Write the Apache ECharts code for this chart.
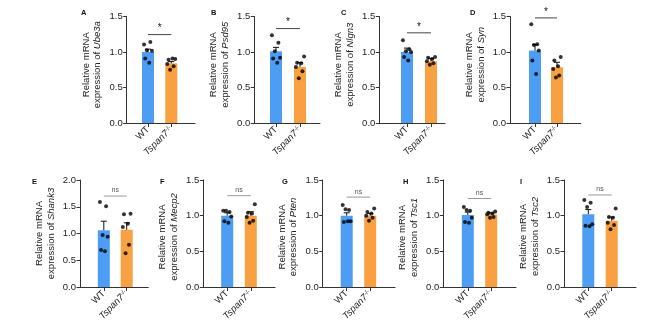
<!DOCTYPE html>
<html>
<head>
<meta charset="utf-8">
<script src="https://cdn.jsdelivr.net/npm/echarts@6/dist/echarts.min.js"></script>
<style>html,body{margin:0;padding:0;background:#fff}#c{width:663px;height:335px}</style>
</head>
<body>
<div id="c"></div>
<script>
// ---------- data ----------
const panelLetters = ['A','B','C','D','E','F','G','H','I'];
const genes = ['Ube3a','Psd95','Nlgn3','Syn','Shank3','Mecp2','Pten','Tsc1','Tsc2'];
const categories = ['WT','Tspan7-/-'];
const wtMean = [1.00, 1.01, 1.00, 1.02, 1.06, 1.00, 1.00, 1.01, 1.02];
const koMean = [0.84, 0.79, 0.87, 0.785, 1.07, 1.00, 1.00, 1.015, 0.93];
const wtSem  = [0.04, 0.055, 0.055, 0.085, 0.17, 0.04, 0.04, 0.04, 0.065];
const koSem  = [0.025, 0.06, 0.04, 0.07, 0.13, 0.055, 0.03, 0.025, 0.05];
const wtDots = [
  [1.105,1.14,1.025,1.017,0.91,0.85],
  [1.235,1.13,1.01,0.92,0.91,0.85],
  [1.165,1.04,1.01,1.0,0.93,0.88],
  [1.39,1.11,1.1,1.02,0.88,0.69],
  [1.59,1.51,0.97,0.94,0.69,0.67],
  [1.07,1.05,1.07,0.99,0.92,0.90],
  [1.15,1.08,1.09,0.92,0.91,0.92],
  [1.12,1.07,1.08,0.97,0.91,0.90],
  [1.22,1.18,1.12,0.88,0.86,0.85]
];
const koDots = [
  [0.90,0.89,0.91,0.83,0.80,0.75],
  [0.935,0.85,0.84,0.79,0.73,0.63],
  [0.93,0.92,0.90,0.87,0.84,0.82],
  [0.93,0.88,0.80,0.76,0.67,0.64],
  [1.37,1.36,1.18,1.12,0.79,0.63],
  [1.16,1.04,1.03,0.98,0.93,0.90],
  [1.10,1.05,1.03,1.0,0.97,0.93],
  [1.06,1.04,1.03,1.02,0.98,0.97],
  [1.10,0.98,0.97,0.90,0.87,0.81]
];
const sigY = [1.245, 1.33, 1.27, 1.48, 1.70, 1.28, 1.26, 1.24, 1.29];
const sigText = ['*','*','*','*','ns','ns','ns','ns','ns'];
const yMax = [1.5,1.5,1.5,1.5,2.0,1.5,1.5,1.5,1.5];

// ---------- layout (pixels) ----------
const axisX = [126.7, 254.3, 379.3, 510, 80, 203.3, 322.7, 443.3, 564];
const wtX   = [148, 276, 407, 535, 103.8, 227.2, 346.7, 467.8, 588.3];
const koX   = [171.3, 300, 431, 557, 126.7, 250.8, 370.2, 491.2, 611.7];
const endX  = [195, 320, 445, 580.7, 148.3, 275, 395, 516, 636];
const rowTop = [16.5, 180];
const rowBottom = [123, 287];
const nameShift = [5, 5, 5, 5, 0, -3.5, -3.5, -4, -3]; // + = up
const letterX = [81, 211, 341, 470, 32, 160, 282, 403, 520];
const letterY = [8.5, 8.5, 8.5, 8.5, 177.5, 177.5, 177.5, 177.5, 177.5];
const jitter = [-0.17, 0.1, -0.05, 0.17, -0.12, 0.05];

const FONT = "'Liberation Sans', Arial, sans-serif";
const BLUE = '#4d9df5', ORANGE = '#f9a142', AX = '#333';

const grids = [], xAxes = [], yAxes = [], series = [], graphics = [];
for (let p = 0; p < 9; p++) {
  const row = p < 4 ? 0 : 1;
  const unit = koX[p] - wtX[p];
  grids.push({left: axisX[p], top: rowTop[row], width: endX[p] - axisX[p],
    height: rowBottom[row] - rowTop[row], containLabel: false});
  xAxes.push({
    type: 'value', gridIndex: p,
    min: -(wtX[p] - axisX[p]) / unit, max: 1 + (endX[p] - koX[p]) / unit,
    splitLine: {show: false},
    axisLine: {show: true, onZero: false, lineStyle: {color: AX, width: 1}},
    axisTick: {show: true, customValues: [0, 1], length: 4, lineStyle: {color: AX}},
    axisLabel: {
      customValues: [0, 1], rotate: 45, margin: 5, fontSize: 9.5, color: '#222', fontFamily: FONT,
      formatter: v => v === 0 ? categories[0] : (v === 1 ? '{i|Tspan7}{s|-/-}' : ''),
      rich: {
        i: {fontStyle: 'italic', fontSize: 9.5, fontFamily: FONT, color: '#222'},
        s: {fontSize: 6, fontFamily: FONT, color: '#222', verticalAlign: 'top', lineHeight: 8}
      }
    }
  });
  const sh = nameShift[p];
  yAxes.push({
    type: 'value', gridIndex: p, min: 0, max: yMax[p], interval: 0.5,
    splitLine: {show: false},
    axisLine: {show: true, onZero: false, lineStyle: {color: AX, width: 1}},
    axisTick: {show: true, length: 3.5, lineStyle: {color: AX}},
    axisLabel: {fontSize: 9.5, color: '#222', fontFamily: FONT, margin: 4,
      formatter: v => v.toFixed(1)},
    name: '{n|Relative mRNA}\n{n|expression of }{i|' + genes[p] + '}',
    nameLocation: 'middle', nameRotate: 90, nameGap: 23,
    nameTextStyle: {
      padding: [0, sh < 0 ? -2 * sh : 0, 0, sh > 0 ? 2 * sh : 0],
      rich: {
        n: {fontSize: 9.5, lineHeight: 11.7, fontFamily: FONT, color: '#222'},
        i: {fontSize: 9.5, lineHeight: 11.7, fontFamily: FONT, color: '#222', fontStyle: 'italic'}
      }
    }
  });
  series.push({
    type: 'bar', xAxisIndex: p, yAxisIndex: p, barWidth: 12,
    data: [
      {value: [0, wtMean[p]], itemStyle: {color: BLUE}},
      {value: [1, koMean[p]], itemStyle: {color: ORANGE}}
    ],
    silent: true, animation: false
  });
  series.push({
    type: 'custom', xAxisIndex: p, yAxisIndex: p,
    data: [[0, wtMean[p], wtSem[p]], [1, koMean[p], koSem[p]]],
    encode: {x: 0, y: 1},
    renderItem: (params, api) => {
      const x = api.value(0), m = api.value(1), s = api.value(2);
      const a = api.coord([x, m]), b = api.coord([x, m + s]);
      return {type: 'group', children: [
        {type: 'line', shape: {x1: a[0], y1: a[1], x2: b[0], y2: b[1]}, style: {stroke: '#111', lineWidth: 1}},
        {type: 'line', shape: {x1: b[0] - 3, y1: b[1], x2: b[0] + 3, y2: b[1]}, style: {stroke: '#111', lineWidth: 1}}
      ]};
    },
    silent: true, animation: false, z: 3
  });
  series.push({
    type: 'scatter', xAxisIndex: p, yAxisIndex: p, symbolSize: 4,
    itemStyle: {color: '#000'},
    data: wtDots[p].map((v, i) => [0 + jitter[i], v]).concat(koDots[p].map((v, i) => [1 + jitter[(i + 3) % 6], v])),
    silent: true, animation: false, z: 4
  });
  const ns = sigText[p] === 'ns';
  series.push({
    type: 'custom', xAxisIndex: p, yAxisIndex: p,
    data: [[0, 1, sigY[p]]],
    encode: {x: [0, 1], y: 2},
    renderItem: (params, api) => {
      const a = api.coord([api.value(0), api.value(2)]), b = api.coord([api.value(1), api.value(2)]);
      return {type: 'group', children: [
        {type: 'line', shape: {x1: a[0], y1: a[1], x2: b[0], y2: b[1]},
          style: {stroke: ns ? '#999' : '#444', lineWidth: 1}},
        {type: 'text', x: (a[0] + b[0]) / 2, y: a[1] - (ns ? 2 : 1),
          style: {text: sigText[p], fill: ns ? '#555' : '#111', font: (ns ? '7px ' : '10px ') + FONT,
            align: 'center', verticalAlign: 'bottom'}}
      ]};
    },
    silent: true, animation: false, z: 5
  });
  graphics.push({type: 'text', left: letterX[p], top: letterY[p],
    style: {text: panelLetters[p], font: 'bold 7.5px ' + FONT, fill: '#111'}});
}

const chart = echarts.init(document.getElementById('c'), null, {renderer: 'canvas'});
chart.setOption({
  animation: false,
  backgroundColor: '#fff',
  grid: grids, xAxis: xAxes, yAxis: yAxes, series: series, graphic: graphics
});
</script>
</body>
</html>
